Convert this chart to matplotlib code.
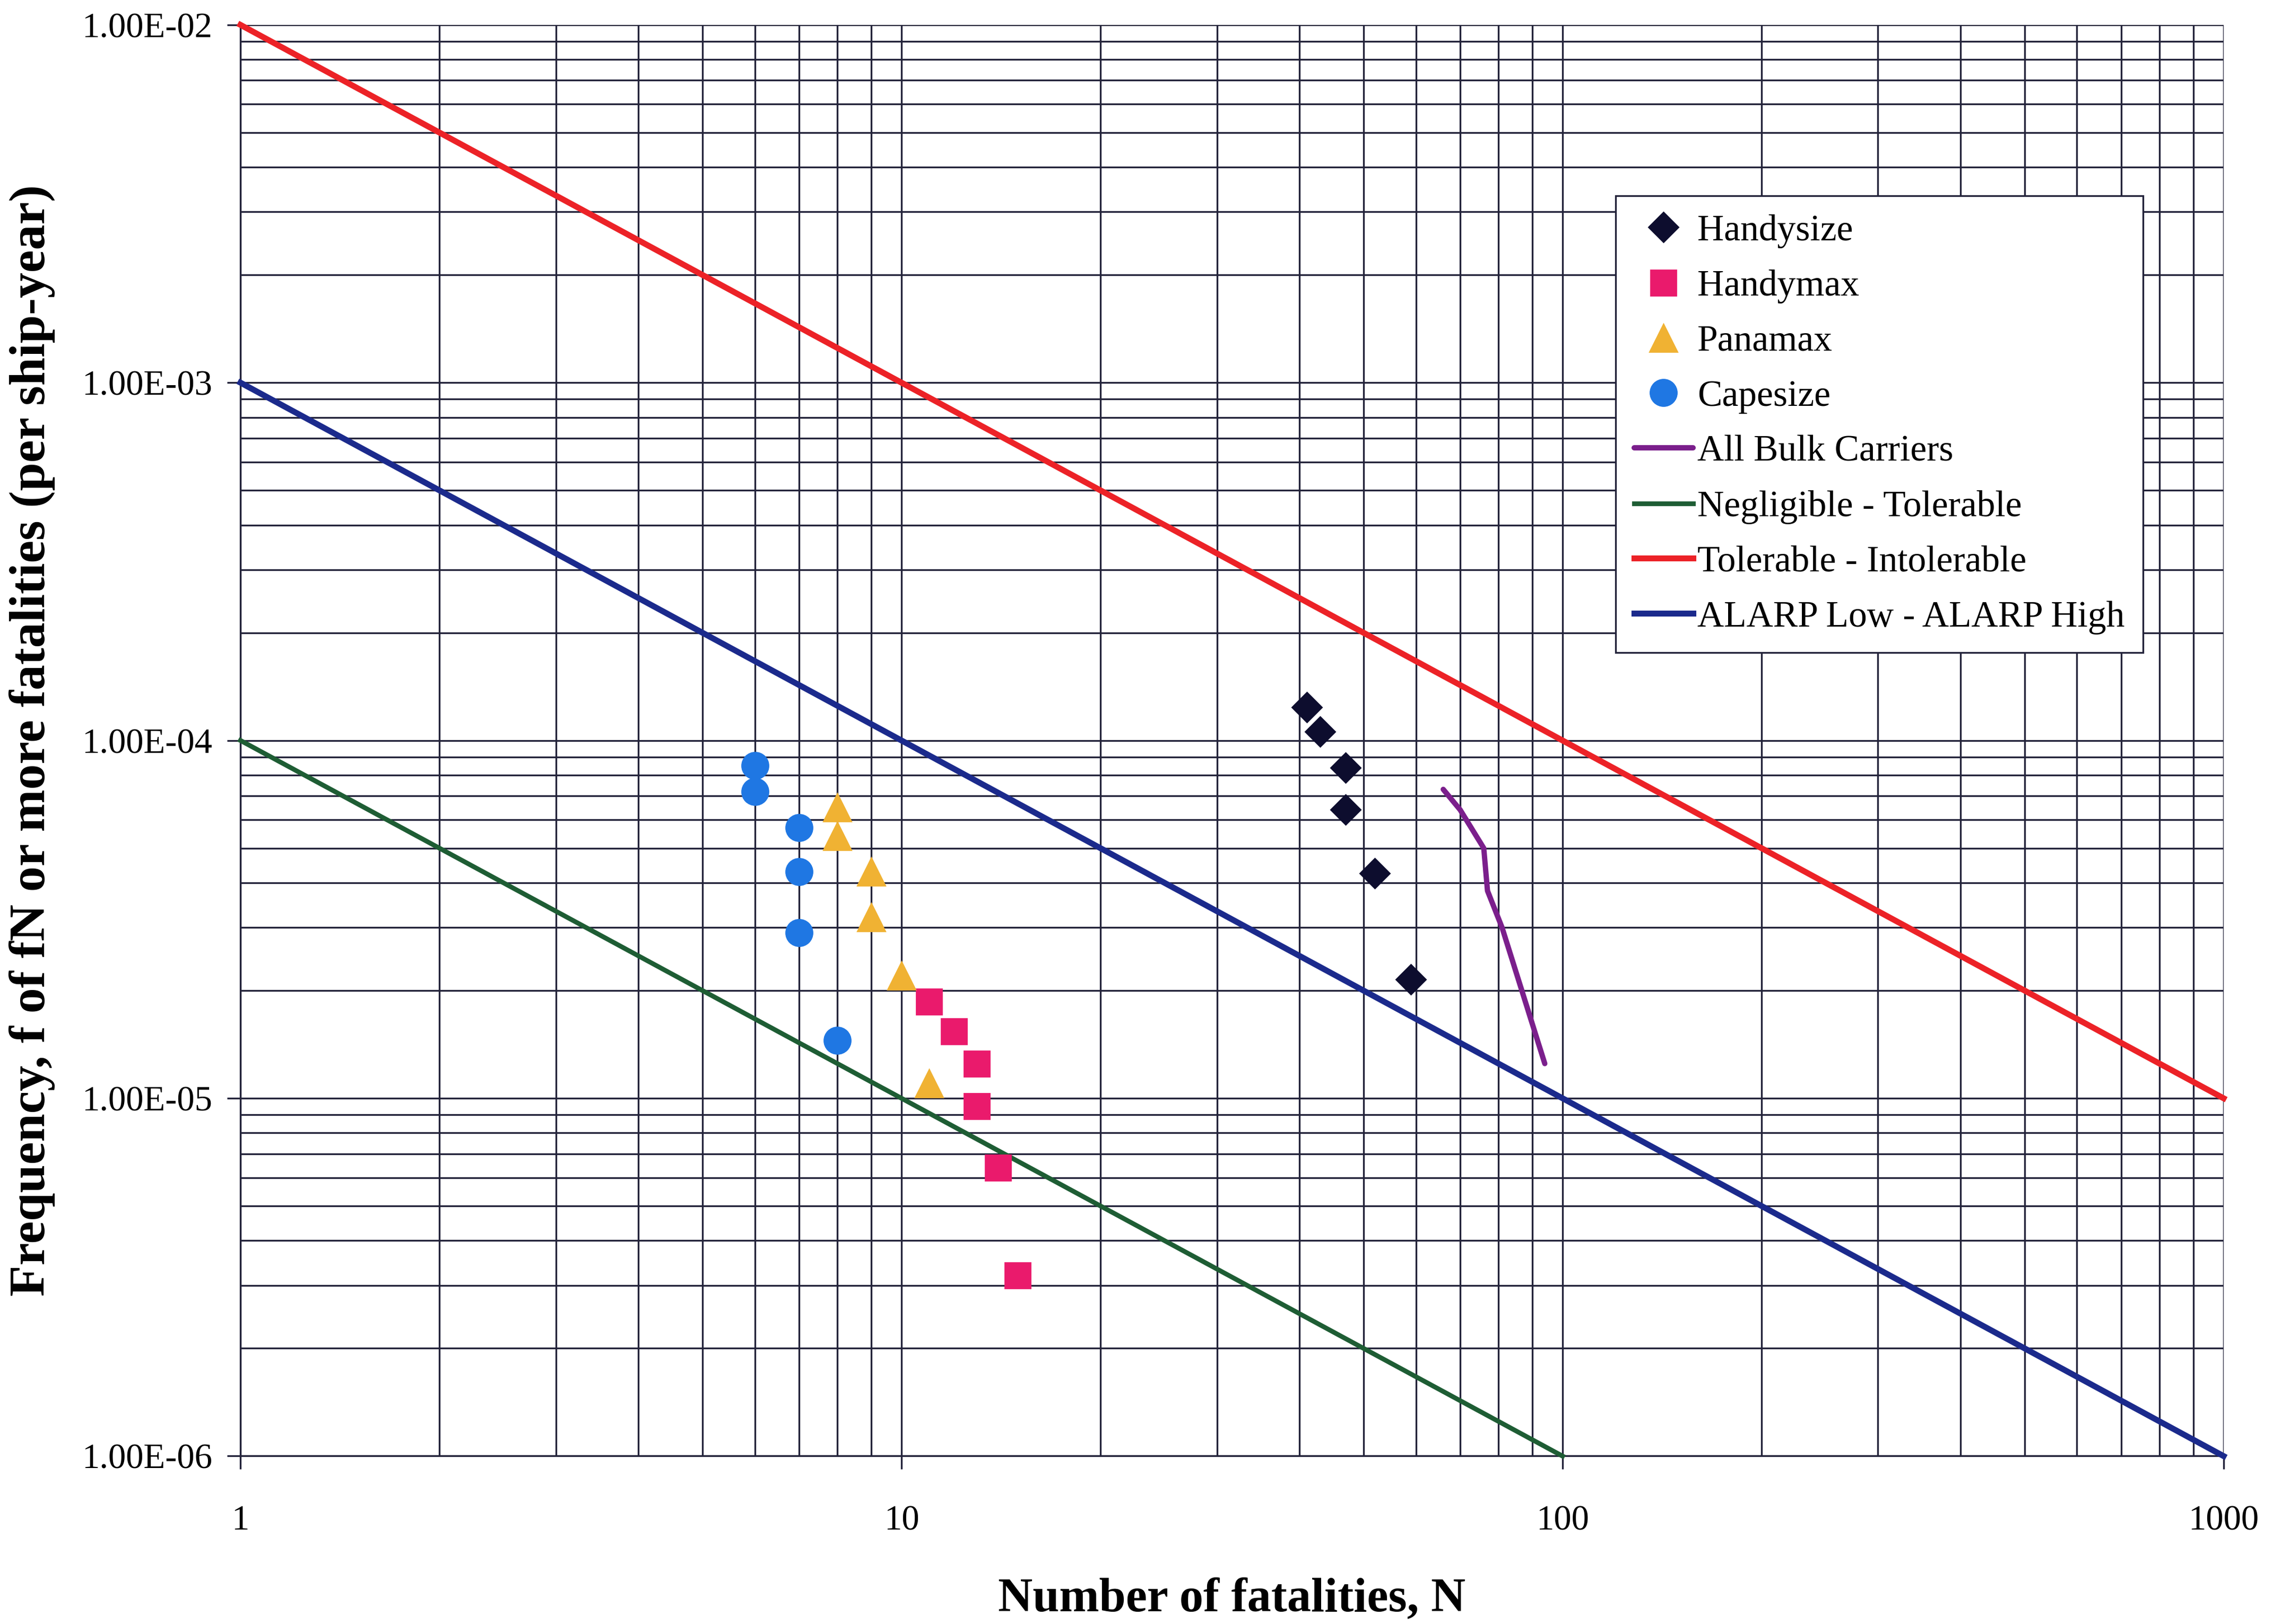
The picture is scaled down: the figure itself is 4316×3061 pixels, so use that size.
"""
F-N curve for bulk carrier fatalities with risk acceptance criteria lines.
"""

import matplotlib
matplotlib.use("Agg")
import matplotlib.pyplot as plt
from matplotlib.ticker import FixedLocator, FixedFormatter, LogLocator, NullFormatter

# --- data ---
handysize_n = [41, 43, 47, 47, 52, 59]
handysize_f = [1.24e-4, 1.06e-4, 8.4e-5, 6.4e-5, 4.25e-5, 2.15e-5]

handymax_n = [11, 12, 13, 13, 14, 15]
handymax_f = [1.86e-5, 1.54e-5, 1.25e-5, 9.5e-6, 6.4e-6, 3.2e-6]

panamax_n = [8, 8, 9, 9, 10, 11]
panamax_f = [6.5e-5, 5.4e-5, 4.3e-5, 3.2e-5, 2.2e-5, 1.1e-5]

capesize_n = [6, 6, 7, 7, 7, 8]
capesize_f = [8.5e-5, 7.2e-5, 5.7e-5, 4.3e-5, 2.9e-5, 1.45e-5]

bulk_n = [66, 70, 76, 77, 81, 94]
bulk_f = [7.3e-5, 6.4e-5, 5.0e-5, 3.8e-5, 3.0e-5, 1.25e-5]

# criterion lines (end points)
negligible_n = [1, 100]
negligible_f = [1e-4, 1e-6]
intolerable_n = [1, 1000]
intolerable_f = [1e-2, 1e-5]
alarp_n = [1, 1000]
alarp_f = [1e-3, 1e-6]

x_ticks = [1, 10, 100, 1000]
x_ticklabels = ["1", "10", "100", "1000"]
y_ticks = [1e-6, 1e-5, 1e-4, 1e-3, 1e-2]
y_ticklabels = ["1.00E-06", "1.00E-05", "1.00E-04", "1.00E-03", "1.00E-02"]

SERIF = ["Liberation Serif", "DejaVu Serif"]
plt.rcParams["font.family"] = SERIF

fig = plt.figure(figsize=(21.58, 15.305), dpi=200)
ax = fig.add_axes([0.105, 0.1034, 0.866, 0.8813])

ax.set_xscale("log")
ax.set_yscale("log")
ax.set_xlim(1, 1000)
ax.set_ylim(1e-6, 1e-2)

# grid
grid_col = "#23233a"
ax.xaxis.set_minor_locator(LogLocator(base=10, subs=range(2, 10)))
ax.yaxis.set_minor_locator(LogLocator(base=10, subs=range(2, 10)))
ax.xaxis.set_minor_formatter(NullFormatter())
ax.yaxis.set_minor_formatter(NullFormatter())
ax.grid(True, which="both", color=grid_col, linewidth=1.2, zorder=0)
ax.set_axisbelow(True)

ax.xaxis.set_major_locator(FixedLocator(x_ticks))
ax.xaxis.set_major_formatter(FixedFormatter(x_ticklabels))
ax.yaxis.set_major_locator(FixedLocator(y_ticks))
ax.yaxis.set_major_formatter(FixedFormatter(y_ticklabels))
ax.tick_params(axis="x", which="major", direction="out", length=9, width=1.2,
               color=grid_col, pad=24, labelsize=24)
ax.tick_params(axis="y", which="major", direction="out", length=9, width=1.2,
               color=grid_col, pad=10, labelsize=24)
ax.tick_params(which="minor", length=0)
for side in ["top", "right"]:
    ax.spines[side].set_visible(False)
for side in ["left", "bottom"]:
    ax.spines[side].set_color(grid_col)
    ax.spines[side].set_linewidth(1.2)

# series
ax.plot(handysize_n, handysize_f, linestyle="none", marker="D", markersize=14.5,
        color="#0d0d2e", label="Handysize", zorder=5)
ax.plot(handymax_n, handymax_f, linestyle="none", marker="s", markersize=17,
        color="#ea1a6c", label="Handymax", zorder=5)
ax.plot(panamax_n, panamax_f, linestyle="none", marker="^", markersize=19,
        color="#f0b233", label="Panamax", zorder=5)
ax.plot(capesize_n, capesize_f, linestyle="none", marker="o", markersize=18,
        color="#1f77e3", label="Capesize", zorder=5)
ax.plot(bulk_n, bulk_f, color="#7b1f8c", linewidth=3.6, label="All Bulk Carriers",
        zorder=4, solid_capstyle="round")
ax.plot(negligible_n, negligible_f, color="#1e5d34", linewidth=3.2,
        label="Negligible - Tolerable", zorder=3, clip_on=False)
ax.plot(intolerable_n, intolerable_f, color="#ec2227", linewidth=4.0,
        label="Tolerable - Intolerable", zorder=3, clip_on=False,
        solid_capstyle="projecting")
ax.plot(alarp_n, alarp_f, color="#1b2a8c", linewidth=4.0,
        label="ALARP Low - ALARP High", zorder=3, clip_on=False)

ax.set_xlabel("Number of fatalities, N", fontsize=32.5, fontweight="bold")
ax.set_ylabel("Frequency, f of fN or more fatalities (per ship-year)", fontsize=34.5,
              fontweight="bold")
ax.xaxis.set_label_coords(0.5, -0.085)
ax.yaxis.set_label_coords(-0.0935, 0.5)

leg = ax.legend(loc="upper right", bbox_to_anchor=(0.9595, 0.8806), borderaxespad=0,
                prop={"family": SERIF, "size": 25}, numpoints=1, handlelength=1.6,
                handletextpad=0.12, labelspacing=0.58, borderpad=0.5, fancybox=False,
                framealpha=1, edgecolor="#23233a")
leg.get_frame().set_linewidth(1.2)

fig.savefig("out.png", dpi=200, facecolor="white")
